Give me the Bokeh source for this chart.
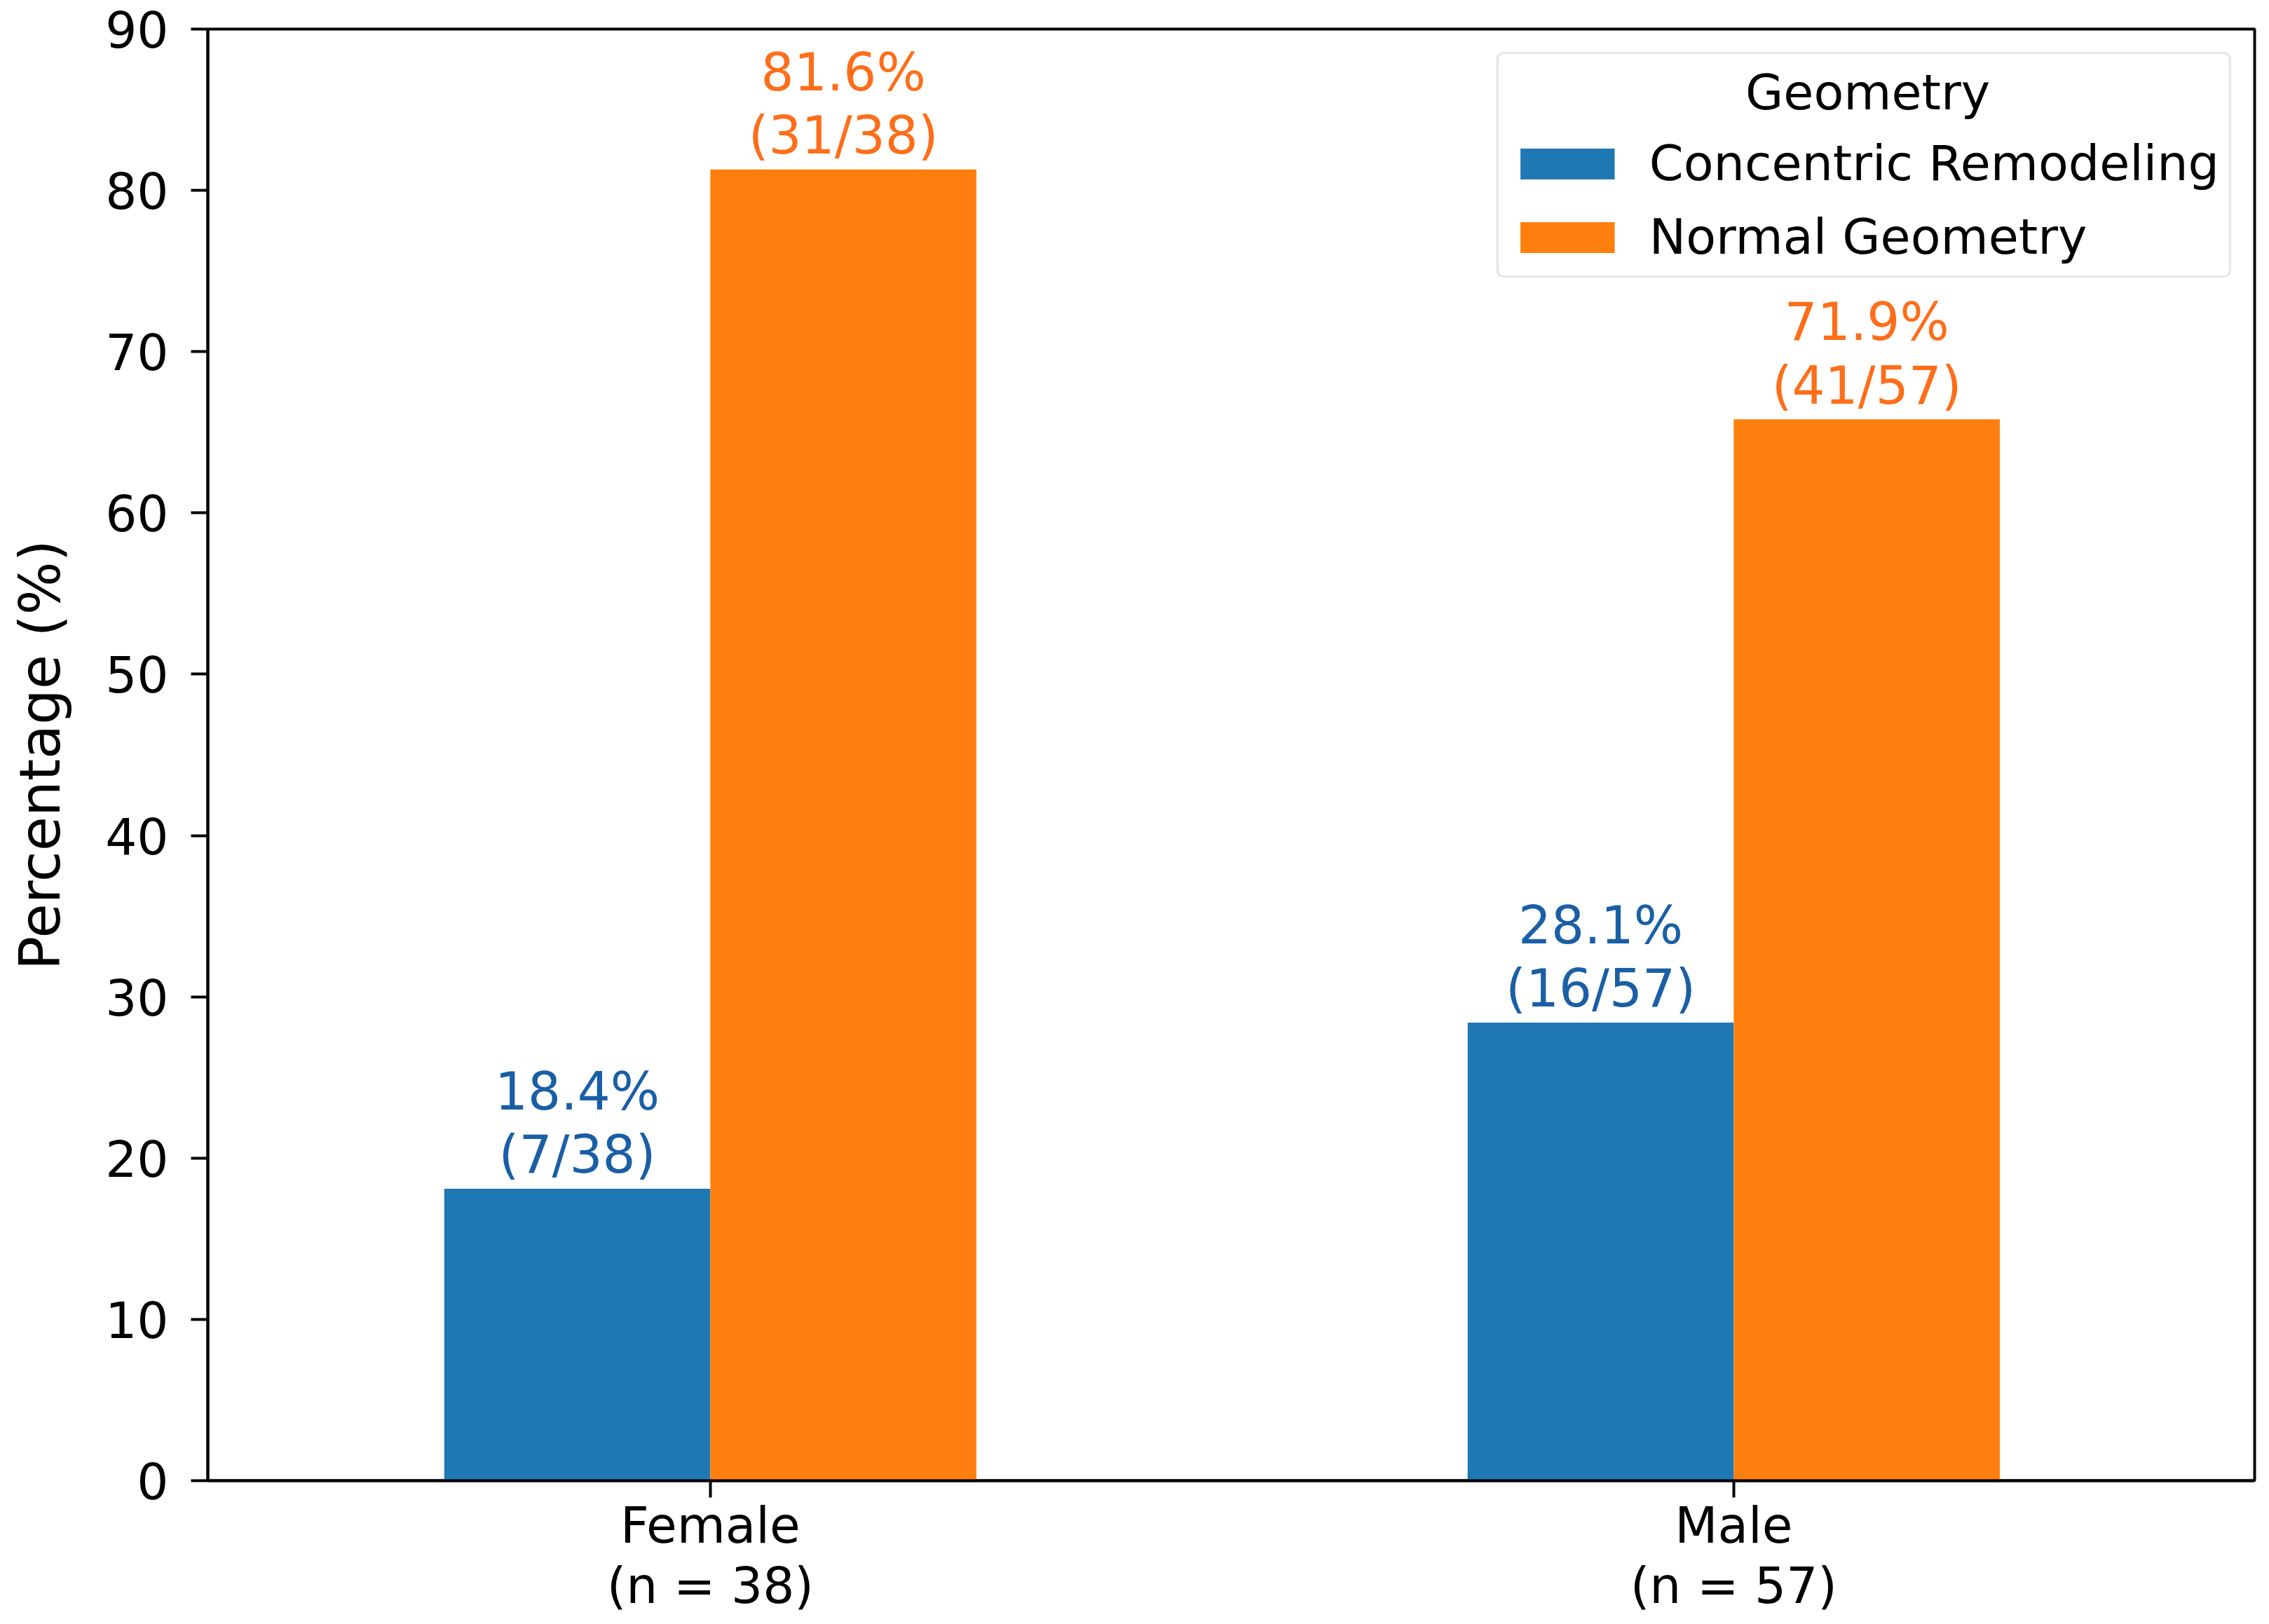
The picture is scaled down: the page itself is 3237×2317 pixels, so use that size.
from bokeh.plotting import figure
from bokeh.models import ColumnDataSource, Range1d, FixedTicker, Legend, LegendItem, Label
from bokeh.transform import dodge
from bokeh.embed import file_html
from bokeh.resources import INLINE
from bokeh.core.properties import value

# ---- data ----
categories = ["Female", "Male"]
group_n = [38, 57]
concentric_counts = [7, 16]
normal_counts = [31, 41]
concentric_bar = [18.1, 28.4]   # bar heights as drawn
normal_bar = [81.3, 65.8]
series_names = ["Concentric Remodeling", "Normal Geometry"]
y_ticks = [0, 10, 20, 30, 40, 50, 60, 70, 80, 90]

FONT = "DejaVu Sans"
BLUE = "#1f77b4"
ORANGE = "#ff7f0e"
BLUE_TXT = "#1a5fa6"
ORANGE_TXT = "#fe6e1a"
BAR_W = 0.26
PAD = 0.25

idx = list(range(len(categories)))
conc_lab = [f"{100*c/n:.1f}%\n({c}/{n})" for c, n in zip(concentric_counts, group_n)]
norm_lab = [f"{100*c/n:.1f}%\n({c}/{n})" for c, n in zip(normal_counts, group_n)]

src = ColumnDataSource(dict(
    x=idx,
    conc=concentric_bar,
    norm=normal_bar,
    conc_y=[v + PAD for v in concentric_bar],
    norm_y=[v + PAD for v in normal_bar],
    conc_lab=conc_lab,
    norm_lab=norm_lab,
))

p = figure(
    frame_width=2920, frame_height=2071,
    x_range=Range1d(-0.491, 1.509), y_range=Range1d(0, 90),
    output_backend="svg", toolbar_location=None,
    min_border_left=296, min_border_right=5, min_border_top=41, min_border_bottom=185,
)
p.background_fill_color = "white"
p.border_fill_color = "white"
p.outline_line_color = "black"
p.outline_line_width = 4
p.xgrid.visible = False
p.ygrid.visible = False

r1 = p.vbar(x=dodge("x", -BAR_W / 2), top="conc", bottom=0, width=BAR_W, source=src,
            fill_color=BLUE, line_color=None)
r2 = p.vbar(x=dodge("x", BAR_W / 2), top="norm", bottom=0, width=BAR_W, source=src,
            fill_color=ORANGE, line_color=None)

p.text(x=dodge("x", -BAR_W / 2), y="conc_y", text="conc_lab", source=src,
       text_align="center", text_baseline="bottom", text_font=value(FONT),
       text_font_size="74px", text_color=BLUE_TXT, text_line_height=1.05)
p.text(x=dodge("x", BAR_W / 2), y="norm_y", text="norm_lab", source=src,
       text_align="center", text_baseline="bottom", text_font=value(FONT),
       text_font_size="74px", text_color=ORANGE_TXT, text_line_height=1.05)

# axes
for ax in (p.xaxis[0], p.yaxis[0]):
    ax.axis_line_width = 4
    ax.axis_line_color = "black"
    ax.major_tick_line_width = 4
    ax.major_tick_in = 0
    ax.major_tick_out = 24
    ax.minor_tick_line_color = None
    ax.major_label_text_font = FONT
    ax.major_label_text_font_size = "71px"
    ax.major_label_text_color = "black"

p.yaxis.ticker = FixedTicker(ticks=y_ticks)
p.yaxis.major_label_standoff = 32
p.yaxis.axis_label = "Percentage (%)"
p.yaxis.axis_label_text_font = FONT
p.yaxis.axis_label_text_font_size = "80px"
p.yaxis.axis_label_text_font_style = "normal"
p.yaxis.axis_label_text_color = "black"
p.yaxis.axis_label_standoff = 43

p.xaxis.ticker = FixedTicker(ticks=idx)
p.xaxis.major_label_overrides = {i: f"{c}\n(n = {n})" for i, c, n in zip(idx, categories, group_n)}
p.xaxis.major_label_standoff = -2
p.xaxis.major_label_text_line_height = 1.04

legend = Legend(
    items=[LegendItem(label=series_names[0], renderers=[r1]),
           LegendItem(label=series_names[1], renderers=[r2])],
    location="top_right", title="Geometry",
    label_text_font=FONT, label_text_font_size="70px", label_text_color="black",
    title_text_font=FONT, title_text_font_size="70px", title_text_alpha=0,
    title_text_font_style="normal",
    glyph_width=168, glyph_height=55, label_standoff=33, label_height=44,
    label_width=813,
    padding=14, spacing=23, title_standoff=19, margin=33,
    border_line_color="#cccccc", border_line_width=3,
    background_fill_color="white", background_fill_alpha=0.0,
)
if "border_radius" in Legend.properties():
    legend.border_radius = 10
p.add_layout(legend)

title_lbl = Label(x=1.131, y=86.05, text="Geometry", text_align="center",
                  text_baseline="middle", text_font=FONT, text_font_size="70px",
                  text_color="black")
p.add_layout(title_lbl)

open("out.html", "w").write(file_html(p, INLINE))
